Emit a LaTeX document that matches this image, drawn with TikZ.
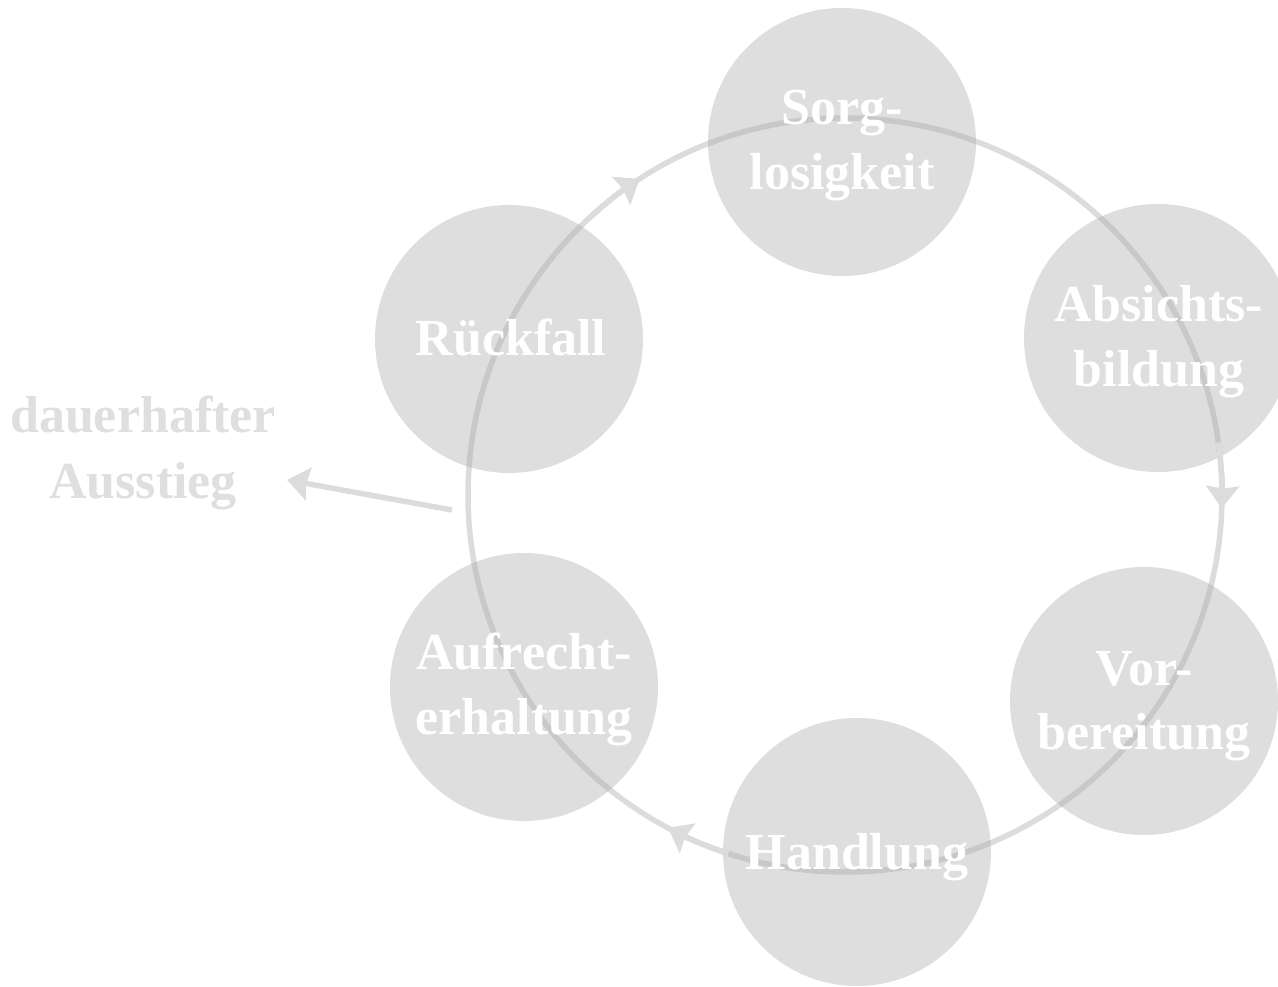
\documentclass[tikz,border=0pt]{standalone}
\usepackage{fontspec}
\setmainfont{Liberation Serif}
\usetikzlibrary{arrows.meta,calc}

\definecolor{discfill}{RGB}{222,222,222}
\definecolor{ringcol}{RGB}{220,220,220}
\definecolor{ringdark}{RGB}{200,200,200}
\definecolor{exitcol}{RGB}{223,223,223}

\tikzset{
  stage/.style={circle, fill=discfill, draw=none, minimum size=268pt, inner sep=0pt},
  stagetext/.style={text=white, font=\bfseries\fontsize{52}{65}\selectfont, inner sep=0pt, anchor=base},
  exittext/.style={text=exitcol, font=\bfseries\fontsize{52}{65}\selectfont, inner sep=0pt, anchor=base},
  ringline/.style={draw=ringcol, line width=5.5pt},
  headtip/.style={-{Stealth[length=22pt,width=33pt,inset=2.5pt]}},
  ringhead/.style={ringline, headtip},
}

\newcommand{\ringR}{377pt}

\begin{document}
\begin{tikzpicture}[x=1pt,y=1pt]
  \useasboundingbox (0,0) rectangle (1278,986);

  % centre of the cycle
  \coordinate (hub) at (845,491);

  % the six stage discs
  \node[stage] (sorg)  at (842,844) {};
  \node[stage] (absi)  at (1158,648) {};
  \node[stage] (vorb)  at (1144,285) {};
  \node[stage] (hand)  at (857,134) {};
  \node[stage] (aufr)  at (524,299) {};
  \node[stage] (rueck) at (509,647) {};

  % the cycle ring, lighter on paper, darker where it crosses a disc
  \draw[ringline] (hub) circle[radius=\ringR];
  \begin{scope}
    \clip (sorg.center) circle[radius=134pt]
          (absi.center) circle[radius=134pt]
          (vorb.center) circle[radius=134pt]
          (hand.center) circle[radius=134pt]
          (aufr.center) circle[radius=134pt]
          (rueck.center) circle[radius=134pt];
    \draw[ringline, draw=ringdark] (hub) circle[radius=\ringR];
  \end{scope}

  % clockwise direction marks on the ring
  \draw[ringhead] ($(hub)+(8:\ringR)$)   arc[start angle=8,   end angle=-2,  radius=\ringR];
  \draw[ringhead] ($(hub)+(252:\ringR)$) arc[start angle=252, end angle=242, radius=\ringR];
  \draw[ringhead] ($(hub)+(133:\ringR)$) arc[start angle=133, end angle=123, radius=\ringR];

  % exit from the cycle
  \coordinate (exitstart) at (452,476);
  \coordinate (exittip) at (287,506);
  \draw[ringline, headtip] (exitstart) -- (exittip);

  % stage labels
  \node[stagetext] (sorgA)  at ($(sorg.center)+(0,17)$)  {Sorg-};
  \node[stagetext] (sorgB)  at ($(sorg.center)+(0,-48)$) {losigkeit};
  \node[stagetext] (absiA)  at ($(absi.center)+(1,16)$)  {Absichts-};
  \node[stagetext] (absiB)  at ($(absi.center)+(1,-49)$) {bildung};
  \node[stagetext] (vorbA)  at ($(vorb.center)+(0,15)$)  {Vor-};
  \node[stagetext] (vorbB)  at ($(vorb.center)+(0,-49)$) {bereitung};
  \node[stagetext] (handA)  at ($(hand.center)+(0,-18)$) {Handlung};
  \node[stagetext] (aufrA)  at ($(aufr.center)+(0,17)$)  {Aufrecht-};
  \node[stagetext] (aufrB)  at ($(aufr.center)+(0,-48)$) {erhaltung};
  \node[stagetext] (rueckA) at ($(rueck.center)+(2,-17)$) {Rückfall};

  \node[exittext] (exitA) at (143,553) {dauerhafter};
  \node[exittext] (exitB) at (143,487) {Ausstieg};
\end{tikzpicture}
\end{document}
